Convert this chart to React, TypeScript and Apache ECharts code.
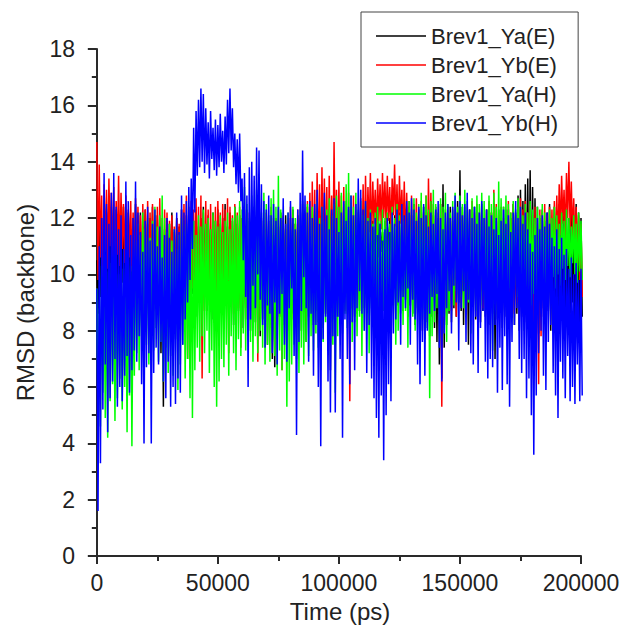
import React, { useEffect, useRef } from "react";
import * as echarts from "echarts";

// Each series is read off the picture as the local maximum (HI) and local
// minimum (LO) of RMSD inside consecutive 1000 ps windows (t = 0 .. 200000 ps).
const STEP = 1000;
const X_LABELS = [0, 50000, 100000, 150000, 200000];
const X_MINOR = [25000, 75000, 125000, 175000];
const NAMES = ["Brev1_Ya(E)", "Brev1_Yb(E)", "Brev1_Ya(H)", "Brev1_Yb(H)"];
const COLORS = ["#000000", "#ff0000", "#00ff00", "#0000ff"];

const YA_E_HI = [
  10.5, 11.6, 12.0, 11.4, 12.2, 11.8, 12.4, 11.9, 12.3, 11.7,
  12.1, 12.4, 11.8, 12.2, 11.6, 12.0, 12.5, 11.9, 12.2, 11.7,
  12.3, 11.8, 12.0, 12.4, 11.7, 12.1, 11.5, 10.8, 11.6, 12.0,
  11.8, 12.2, 11.5, 12.0, 11.7, 12.3, 11.9, 12.1, 11.6, 12.2,
  11.9, 12.3, 11.7, 12.0, 12.4, 11.8, 12.1, 11.6, 12.2, 11.9,
  12.3, 11.8, 12.0, 12.5, 11.7, 12.2, 11.9, 12.4, 11.8, 12.1,
  12.0, 11.6, 12.3, 11.9, 12.2, 11.7, 12.0, 11.5, 11.9, 11.3,
  11.6, 11.0, 11.8, 11.4, 12.0, 11.7, 12.2, 11.9, 12.1, 11.6,
  12.0, 12.3, 11.8, 12.1, 11.7, 12.2, 11.9, 12.4, 11.6, 12.0,
  11.8, 12.3, 12.0, 11.7, 12.2, 11.9, 12.3, 11.8, 12.1, 12.4,
  11.9, 12.2, 11.7, 12.0, 12.3, 11.8, 12.1, 11.6, 12.0, 11.9,
  12.2, 11.8, 12.0, 11.6, 11.9, 11.7, 12.1, 11.8, 11.5, 11.9,
  11.7, 12.0, 11.6, 12.1, 11.8, 12.2, 11.9, 12.3, 12.0, 12.4,
  12.1, 12.5, 11.9, 12.3, 12.0, 12.4, 11.8, 12.2, 12.6, 12.1,
  12.4, 12.0, 12.5, 13.2, 12.3, 12.0, 12.4, 11.9, 12.2, 12.6,
  13.7, 12.4, 12.1, 11.8, 12.3, 12.0, 12.4, 11.9, 12.2, 12.5,
  12.0, 12.3, 11.8, 12.2, 12.5, 11.9, 12.3, 12.0, 12.4, 12.1,
  12.3, 12.0, 12.5, 12.2, 12.8, 13.0, 12.6, 13.2, 13.4, 13.7,
  13.1, 12.7, 12.4, 12.0, 12.3, 11.9, 12.2, 12.5, 12.0, 12.4,
  12.1, 12.5, 12.2, 12.6, 12.3, 12.0, 12.4, 12.1, 12.5, 12.2, 12.0,
];
const YA_E_LO = [
  8.6, 9.2, 8.5, 9.6, 8.9, 9.8, 9.3, 10.1, 9.5, 9.0,
  9.7, 9.2, 10.0, 9.4, 8.8, 9.9, 9.3, 9.6, 8.9, 9.5,
  9.1, 9.8, 9.4, 8.7, 9.6, 9.0, 7.2, 5.3, 8.1, 9.2,
  9.6, 8.9, 9.4, 9.1, 8.6, 9.7, 9.0, 9.5, 8.8, 9.3,
  9.1, 8.5, 9.4, 8.9, 9.6, 8.7, 9.2, 8.4, 9.5, 9.0,
  8.6, 9.3, 8.8, 9.1, 8.5, 9.4, 8.2, 9.0, 8.7, 8.4,
  8.1, 8.8, 8.5, 8.0, 8.7, 8.3, 8.9, 7.8, 8.4, 7.9,
  7.5, 8.2, 7.0, 6.7, 7.8, 8.5, 8.1, 8.8, 8.3, 8.9,
  8.6, 9.1, 8.4, 8.8, 8.0, 8.7, 7.6, 8.5, 8.9, 8.2,
  8.7, 8.3, 8.9, 8.1, 8.6, 7.9, 6.6, 8.4, 8.8, 8.5,
  8.9, 8.4, 9.1, 8.6, 8.2, 8.8, 8.5, 9.0, 8.7, 9.2,
  8.8, 9.3, 8.9, 9.5, 9.8, 10.3, 10.6, 10.8, 10.2, 10.5,
  10.8, 10.1, 9.6, 9.2, 8.9, 9.4, 8.7, 9.1, 8.5, 8.9,
  8.6, 8.2, 8.8, 8.4, 8.0, 8.7, 8.3, 7.8, 8.5, 8.1,
  7.6, 6.8, 6.3, 7.4, 8.2, 8.6, 8.3, 8.8, 8.5, 9.0,
  8.7, 8.2, 8.9, 7.5, 8.6, 9.0, 8.4, 8.8, 8.3, 8.7,
  8.5, 8.9, 8.2, 8.6, 7.0, 8.4, 8.8, 8.1, 8.5, 8.9,
  8.4, 8.8, 8.2, 8.6, 8.0, 8.5, 8.9, 8.3, 8.7, 8.1,
  8.6, 8.2, 7.9, 8.5, 8.8, 8.3, 8.7, 8.0, 8.4, 8.9,
  8.5, 8.9, 8.3, 8.7, 8.1, 8.6, 9.0, 8.4, 8.8, 8.2, 8.5,
];

const YB_E_HI = [
  14.7, 13.9, 12.8, 13.2, 13.0, 13.4, 12.9, 13.1, 12.6, 13.5,
  12.9, 12.5, 12.8, 12.3, 12.6, 12.2, 12.7, 12.4, 12.1, 12.5,
  12.3, 12.6, 12.2, 12.5, 12.1, 12.4, 12.7, 12.0, 12.3, 12.2,
  11.9, 12.1, 11.7, 12.0, 11.8, 12.3, 12.5, 12.8, 12.4, 12.6,
  12.3, 12.7, 12.4, 12.8, 12.2, 12.6, 12.3, 12.5, 12.1, 12.4,
  12.6, 12.2, 12.5, 12.3, 12.7, 12.4, 12.1, 12.5, 12.2, 12.4,
  12.0, 12.3, 11.8, 12.2, 11.9, 12.4, 12.1, 11.7, 12.0, 11.8,
  12.2, 11.9, 12.4, 12.0, 11.7, 12.3, 11.9, 12.1, 11.6, 12.0,
  12.4, 12.1, 11.8, 12.3, 12.0, 12.5, 12.2, 12.6, 12.9, 13.3,
  13.0, 13.6, 13.2, 13.8, 13.4, 13.1, 13.5, 12.8, 14.7, 13.0,
  13.3, 12.8, 13.1, 12.6, 12.9, 12.4, 12.8, 12.5, 12.2, 12.7,
  13.2, 13.5, 13.1, 13.6, 13.3, 13.0, 13.4, 13.2, 13.6, 13.3,
  13.5, 13.1, 13.4, 13.9, 13.2, 13.5, 13.0, 13.3, 12.9, 12.6,
  12.8, 12.4, 12.7, 12.3, 12.6, 12.2, 12.8, 13.4, 12.9, 12.5,
  12.3, 12.0, 12.5, 12.2, 11.8, 12.4, 12.0, 12.3, 11.9, 12.2,
  12.5, 12.1, 12.4, 12.0, 12.3, 12.6, 12.2, 12.5, 12.1, 12.4,
  12.0, 12.3, 12.6, 12.2, 13.0, 12.5, 12.1, 12.4, 12.0, 12.3,
  12.6, 12.2, 12.5, 12.1, 12.4, 12.7, 12.3, 12.6, 12.2, 12.5,
  12.1, 12.4, 12.0, 12.3, 12.2, 12.5, 12.1, 12.4, 12.3, 12.6,
  12.8, 13.2, 13.5, 13.0, 13.6, 14.0, 13.3, 12.7, 12.4, 12.1, 11.8,
];
const YB_E_LO = [
  9.8, 10.6, 9.3, 10.8, 10.2, 11.0, 10.5, 9.9, 10.7, 10.3,
  10.9, 10.4, 9.8, 10.6, 10.1, 9.5, 10.3, 9.9, 9.2, 9.8,
  9.4, 10.0, 9.1, 9.7, 9.3, 8.9, 9.6, 9.0, 9.4, 8.8,
  9.2, 8.7, 9.0, 8.5, 8.9, 9.3, 8.6, 7.0, 9.1, 9.5,
  8.8, 9.4, 9.0, 6.3, 8.7, 9.2, 8.9, 9.5, 9.1, 8.6,
  9.3, 8.8, 9.4, 8.9, 7.2, 9.1, 8.6, 9.2, 8.8, 7.4,
  8.9, 8.4, 9.0, 8.7, 8.2, 8.8, 6.9, 8.5, 8.9, 8.3,
  8.6, 8.1, 8.7, 8.3, 7.7, 8.5, 6.6, 8.2, 8.7, 8.0,
  8.4, 8.8, 8.1, 7.5, 8.6, 8.9, 8.3, 8.7, 9.2, 9.6,
  9.9, 10.3, 9.7, 10.5, 10.0, 9.4, 10.2, 9.8, 10.4, 9.6,
  9.9, 9.2, 8.7, 9.5, 5.5, 8.8, 9.3, 8.6, 9.1, 9.7,
  10.4, 11.0, 11.5, 11.2, 11.8, 11.4, 11.9, 11.6, 12.0, 11.7,
  11.9, 11.5, 12.1, 11.7, 11.3, 11.8, 11.4, 11.0, 10.6, 10.2,
  10.5, 9.9, 10.3, 9.6, 10.0, 9.4, 9.8, 10.4, 9.7, 9.2,
  9.5, 8.8, 5.3, 8.4, 9.0, 9.4, 8.7, 9.1, 8.5, 9.2,
  9.0, 9.6, 9.1, 9.8, 9.3, 8.9, 9.5, 9.0, 9.4, 8.8,
  9.2, 8.7, 9.1, 9.5, 9.0, 8.6, 9.3, 8.8, 9.2, 8.5,
  8.9, 9.3, 8.6, 9.0, 8.4, 8.8, 9.2, 8.5, 8.1, 7.9,
  8.3, 7.6, 6.1, 7.8, 8.5, 8.9, 9.3, 9.8, 10.2, 10.6,
  11.0, 11.4, 11.8, 11.2, 12.0, 11.6, 11.3, 10.8, 10.3, 9.8, 9.2,
];

const YA_H_HI = [
  9.5, 8.8, 10.3, 9.6, 10.1, 9.2, 10.4, 9.8, 10.6, 10.0,
  9.4, 10.2, 9.7, 10.8, 10.3, 9.9, 11.2, 11.8, 11.4, 12.2,
  11.6, 12.0, 11.3, 11.9, 12.4, 11.7, 12.1, 12.8, 12.0, 11.5,
  11.8, 11.2, 11.6, 10.9, 11.4, 12.0, 11.5, 11.8, 11.1, 11.6,
  11.9, 11.4, 12.1, 11.7, 12.3, 11.8, 12.0, 11.6, 12.2, 11.9,
  11.7, 12.1, 11.5, 11.9, 12.2, 11.6, 12.0, 12.4, 12.1, 12.6,
  12.3, 13.1, 12.5, 12.0, 12.8, 12.4, 13.0, 12.6, 12.2, 12.9,
  12.5, 12.1, 12.7, 13.0, 12.4, 13.5, 12.3, 12.0, 11.6, 12.2,
  11.8, 12.4, 12.0, 11.7, 12.3, 12.6, 12.1, 12.5, 12.0, 12.4,
  12.2, 12.6, 12.0, 12.4, 11.9, 12.3, 12.7, 12.1, 12.5, 12.8,
  12.4, 12.9, 12.5, 13.2, 13.6, 12.8, 12.4, 12.9, 12.3, 12.6,
  12.1, 12.5, 12.0, 12.3, 11.8, 12.2, 12.4, 11.9, 12.3, 12.0,
  12.2, 11.8, 12.4, 12.0, 12.5, 12.1, 12.3, 11.9, 12.2, 12.6,
  12.3, 12.7, 12.2, 12.5, 12.9, 12.4, 12.8, 12.3, 12.6, 13.0,
  12.5, 12.2, 12.7, 12.4, 12.9, 12.5, 12.2, 12.6, 12.9, 12.4,
  12.8, 12.5, 13.0, 12.6, 12.3, 12.7, 12.4, 12.8, 12.5, 12.9,
  12.6, 12.3, 12.8, 12.5, 12.9, 12.4, 13.3, 12.7, 12.4, 12.8,
  12.5, 12.2, 12.6, 12.3, 12.7, 12.4, 12.1, 12.5, 12.2, 12.6,
  12.3, 12.0, 12.4, 12.1, 12.5, 12.2, 11.9, 12.3, 12.0, 12.4,
  12.1, 11.8, 12.2, 11.9, 12.3, 12.0, 11.7, 12.1, 11.8, 12.2, 11.9,
];
const YA_H_LO = [
  5.0, 4.6, 5.8, 4.9, 4.2, 5.5, 6.1, 4.8, 5.6, 6.3,
  5.2, 6.0, 4.4, 5.7, 3.9, 6.4, 7.2, 6.6, 7.8, 7.0,
  7.5, 6.8, 7.9, 7.3, 8.1, 6.9, 7.6, 6.2, 7.4, 6.5,
  7.1, 6.4, 7.7, 5.9, 6.8, 7.5, 6.3, 7.0, 5.6, 4.9,
  6.6, 7.4, 6.9, 7.8, 7.2, 8.0, 6.5, 7.3, 6.0, 5.3,
  6.2, 7.0, 6.7, 7.5, 6.4, 7.8, 7.2, 6.6, 7.7, 7.1,
  7.9, 7.3, 8.2, 7.6, 6.9, 7.8, 7.2, 8.0, 7.4, 6.8,
  7.5, 6.9, 7.7, 7.1, 6.4, 7.3, 6.6, 7.0, 5.3, 6.2,
  6.8, 7.5, 7.0, 6.5, 7.4, 6.8, 7.6, 7.1, 7.8, 7.3,
  7.9, 7.4, 6.6, 7.6, 8.3, 7.7, 8.0, 7.5, 5.8, 7.8,
  8.4, 7.9, 8.6, 8.1, 8.7, 7.6, 8.3, 7.8, 8.5, 7.1,
  8.0, 8.6, 7.2, 8.8, 8.3, 8.9, 7.5, 8.1, 8.7, 8.4,
  8.8, 8.3, 8.9, 7.5, 8.0, 8.6, 8.2, 8.7, 7.4, 8.9,
  8.5, 8.0, 8.6, 7.9, 8.4, 7.7, 8.1, 5.6, 7.8, 8.3,
  8.8, 8.4, 9.0, 8.5, 7.6, 8.7, 9.3, 8.9, 9.4, 9.0,
  9.2, 8.8, 9.5, 9.0, 7.9, 9.1, 8.7, 9.3, 8.9, 9.4,
  9.0, 8.6, 9.2, 7.3, 9.4, 8.5, 9.1, 8.7, 9.3, 8.9,
  9.5, 9.1, 9.6, 9.2, 8.8, 9.4, 8.0, 9.6, 9.2, 8.9,
  9.3, 8.8, 9.4, 9.0, 9.6, 9.2, 9.8, 9.4, 9.9, 9.5,
  10.0, 9.6, 10.2, 9.8, 10.3, 9.9, 10.4, 10.0, 9.7, 10.1, 9.8,
];

const YB_H_HI = [
  9.5, 11.0, 12.0, 13.6, 12.5, 11.8, 12.9, 13.6, 12.4, 11.6,
  12.1, 10.9, 13.3, 12.6, 11.4, 12.0, 13.3, 12.2, 11.5, 10.8,
  11.9, 12.4, 11.2, 11.8, 12.3, 11.0, 11.7, 10.6, 11.4, 12.0,
  11.3, 10.8, 11.6, 12.2, 11.5, 12.8, 12.2, 12.6, 13.1, 13.4,
  15.2, 15.8, 16.2, 16.6, 16.4, 15.9, 15.4, 15.8, 15.2, 15.5,
  15.3, 15.7, 15.1, 15.6, 16.2, 16.6, 15.9, 15.0, 14.8, 15.0,
  13.4, 13.6, 12.8, 13.8, 14.0, 13.5, 14.5, 14.4, 13.2, 12.6,
  12.3, 12.8, 12.1, 12.5, 11.9, 12.4, 12.0, 12.7, 11.8, 12.2,
  12.6, 12.0, 11.6, 12.3, 12.9, 14.4, 12.8, 12.2, 12.6, 12.0,
  12.5, 13.0, 11.8, 12.4, 12.9, 12.1, 11.6, 12.3, 12.7, 12.0,
  11.5, 12.2, 12.6, 11.9, 12.4, 12.8, 12.1, 12.5, 13.4, 13.0,
  12.3, 12.6, 11.9, 12.2, 11.7, 12.0, 11.4, 11.8, 11.2, 11.6,
  12.0, 11.5, 12.2, 11.8, 12.3, 11.9, 12.5, 12.1, 12.6, 12.2,
  12.7, 12.3, 11.9, 12.4, 12.0, 12.5, 12.1, 11.7, 12.2, 11.8,
  12.3, 12.6, 12.0, 11.6, 12.2, 12.5, 12.0, 12.4, 12.8, 12.2,
  12.6, 12.1, 12.5, 12.9, 12.3, 12.0, 12.4, 11.8, 12.2, 12.6,
  12.0, 12.3, 11.7, 12.1, 11.6, 12.0, 11.4, 11.9, 12.3, 11.8,
  12.1, 11.5, 12.2, 12.6, 12.0, 12.4, 11.8, 12.2, 11.6, 11.1,
  10.8, 11.4, 12.0, 11.6, 12.1, 11.7, 12.2, 11.8, 11.3, 11.0,
  11.6, 10.9, 11.3, 10.7, 10.9, 10.2, 10.6, 10.0, 10.4, 9.8, 10.2,
];
const YB_H_LO = [
  1.6, 3.3, 5.2, 6.8, 4.4, 5.6, 6.2, 7.0, 5.3, 6.0,
  5.5, 6.4, 7.1, 5.8, 6.6, 7.3, 6.9, 7.8, 6.1, 4.0,
  6.7, 7.2, 4.0, 6.5, 7.4, 6.8, 7.6, 6.2, 5.6, 6.9,
  5.3, 6.0, 5.4, 6.3, 5.8, 7.5, 8.4, 9.0, 9.8, 10.9,
  12.2, 13.5, 13.8, 14.0, 13.6, 13.9, 13.4, 14.1, 13.7, 13.5,
  13.8, 14.0, 13.6, 13.9, 14.3, 14.4, 13.8, 13.2, 12.9, 12.6,
  10.5, 9.2, 6.0, 8.4, 9.6, 8.8, 10.0, 9.1, 8.2, 7.4,
  8.9, 8.6, 7.2, 9.0, 6.8, 8.6, 9.3, 7.5, 6.9, 8.8,
  9.5, 7.1, 4.3, 7.6, 8.7, 9.9, 8.8, 6.9, 8.6, 6.4,
  8.2, 6.0, 3.9, 7.7, 8.5, 6.2, 5.1, 7.8, 5.1, 8.5,
  7.0, 4.2, 8.4, 7.0, 6.1, 8.3, 6.6, 8.8, 9.4, 8.6,
  8.0, 6.5, 8.2, 6.3, 5.6, 4.9, 4.2, 5.7, 3.4, 5.0,
  6.1, 5.5, 7.9, 8.4, 9.0, 7.5, 9.2, 8.8, 9.5, 7.5,
  9.1, 8.4, 6.8, 6.1, 7.6, 6.4, 8.0, 8.6, 9.2, 8.7,
  9.3, 7.4, 6.2, 7.9, 8.8, 9.4, 7.9, 9.6, 9.0, 7.3,
  8.8, 9.4, 7.6, 9.1, 7.2, 6.8, 8.5, 6.5, 8.1, 8.7,
  6.9, 6.3, 7.0, 6.7, 8.2, 5.8, 7.4, 5.9, 7.8, 6.1,
  5.3, 7.6, 8.2, 8.8, 7.0, 6.5, 7.0, 5.6, 6.3, 5.0,
  3.6, 5.7, 7.2, 8.0, 6.4, 5.9, 7.6, 8.2, 6.5, 5.7,
  4.9, 6.9, 6.3, 5.6, 7.1, 5.5, 6.0, 5.4, 6.8, 5.5, 5.7,
];

const SERIES_HI = [YA_E_HI, YB_E_HI, YA_H_HI, YB_H_HI];
const SERIES_LO = [YA_E_LO, YB_E_LO, YA_H_LO, YB_H_LO];
const FONT = "'Liberation Sans', Arial, sans-serif";

function windowPoints(hi: number[], lo: number[]) {
  const pts: number[][] = [];
  for (let i = 0; i < hi.length; i++) {
    pts.push([i * STEP, hi[i]]);
    if (i < lo.length) pts.push([i * STEP + STEP / 2, lo[i]]);
  }
  return pts;
}

export default function App() {
  const ref = useRef<HTMLDivElement>(null);
  useEffect(() => {
    if (!ref.current) return;
    const chart = echarts.init(ref.current, null, { renderer: "svg" });
    const axisColor = "#2a2a2a";
    chart.setOption({
      animation: false,
      backgroundColor: "#ffffff",
      textStyle: { fontFamily: FONT },
      grid: { left: 91, right: 43, top: 49, bottom: 71, containLabel: false },
      legend: {
        orient: "vertical",
        left: 361,
        top: 12,
        padding: [13, 20, 13, 15],
        icon: "rect",
        itemWidth: 50,
        itemHeight: 1.5,
        itemGap: 7,
        borderColor: "#444",
        borderWidth: 1,
        textStyle: { fontSize: 22, color: "#222", fontFamily: FONT },
        data: NAMES,
      },
      xAxis: [
        {
          type: "value",
          min: -2400,
          max: 200000,
          position: "bottom",
          name: "Time (ps)",
          nameLocation: "middle",
          nameGap: 41,
          nameTextStyle: { fontSize: 24, color: "#222", fontFamily: FONT, padding: [0, 0, 0, 8] },
          axisLine: { show: true, lineStyle: { color: axisColor, width: 2 } },
          axisTick: { show: true, length: 8, customValues: X_LABELS, lineStyle: { color: axisColor, width: 2 } },
          axisLabel: {
            customValues: X_LABELS,
            fontSize: 23,
            color: "#222",
            margin: 15,
            fontFamily: FONT,
            formatter: (v: number) => String(v),
          },
          splitLine: { show: false },
        },
        {
          type: "value",
          min: -2400,
          max: 200000,
          position: "bottom",
          axisLine: { show: false },
          axisTick: { show: true, length: 5, customValues: X_MINOR, lineStyle: { color: axisColor, width: 2 } },
          axisLabel: { show: false },
          splitLine: { show: false },
        },
      ],
      yAxis: {
        type: "value",
        min: 0,
        max: 18,
        interval: 2,
        name: "RMSD (backbone)",
        nameLocation: "middle",
        nameGap: 54,
        nameTextStyle: { fontSize: 24, color: "#222", fontFamily: FONT },
        axisLine: { show: true, lineStyle: { color: axisColor, width: 2 } },
        axisTick: { show: true, length: 9, lineStyle: { color: axisColor, width: 2 } },
        minorTick: { show: true, splitNumber: 2, length: 5, lineStyle: { color: axisColor, width: 2 } },
        axisLabel: { fontSize: 23, color: "#222", margin: 16, fontFamily: FONT },
        splitLine: { show: false },
      },
      series: SERIES_HI.map((hi, k) => ({
        name: NAMES[k],
        type: "line",
        xAxisIndex: 0,
        symbol: "none",
        showSymbol: false,
        color: COLORS[k],
        lineStyle: { color: COLORS[k], width: 1.5 },
        data: windowPoints(hi, SERIES_LO[k]),
      })),
    });
    return () => chart.dispose();
  }, []);
  return (
    <div
      ref={ref}
      style={{ position: "fixed", left: 0, top: 0, width: 624, height: 628 }}
    />
  );
}
